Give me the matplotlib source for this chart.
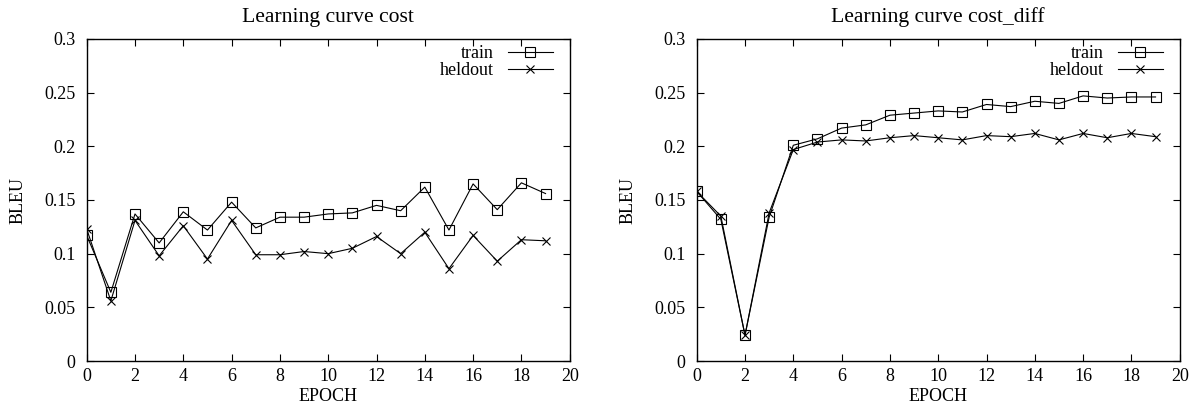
import matplotlib
matplotlib.use("Agg")
import matplotlib.pyplot as plt
from matplotlib.ticker import FormatStrFormatter, MultipleLocator

plt.rcParams["font.family"] = ["Liberation Serif", "DejaVu Serif"]
plt.rcParams["font.size"] = 13

# values
epochs = [0, 1, 2, 3, 4, 5, 6, 7, 8, 9, 10, 11, 12, 13, 14, 15, 16, 17, 18, 19]
cost_train = [0.117, 0.064, 0.137, 0.110, 0.139, 0.122, 0.148, 0.124, 0.134, 0.134,
              0.137, 0.138, 0.145, 0.140, 0.162, 0.122, 0.165, 0.141, 0.166, 0.156]
cost_heldout = [0.123, 0.056, 0.131, 0.098, 0.126, 0.095, 0.131, 0.099, 0.099, 0.102,
                0.100, 0.105, 0.116, 0.100, 0.120, 0.086, 0.117, 0.093, 0.113, 0.112]
diff_train = [0.158, 0.132, 0.024, 0.134, 0.201, 0.207, 0.217, 0.220, 0.229, 0.231,
              0.233, 0.232, 0.239, 0.237, 0.242, 0.240, 0.247, 0.245, 0.246, 0.246]
diff_heldout = [0.158, 0.135, 0.024, 0.138, 0.197, 0.204, 0.206, 0.205, 0.208, 0.210,
                0.208, 0.206, 0.210, 0.209, 0.212, 0.206, 0.212, 0.208, 0.212, 0.209]

panels = [
    ("Learning curve cost", cost_train, cost_heldout),
    ("Learning curve cost_diff", diff_train, diff_heldout),
]

W, H = 1193, 405
fig = plt.figure(figsize=(W / 100, H / 100), dpi=100)
ax_w, ax_h = 483 / W, 322 / H
bottom = (H - 361) / H
lefts = [86.7 / W, 696.7 / W]

for left, (title, train, heldout) in zip(lefts, panels):
    ax = fig.add_axes([left, bottom, ax_w, ax_h])
    ax.plot(epochs, train, color="black", lw=0.8, marker="s", ms=6.5,
            mfc="none", mec="black", mew=0.8, label="train")
    ax.plot(epochs, heldout, color="black", lw=0.8, marker="x", ms=6,
            mew=0.8, label="heldout")
    ax.set_xlim(0, 20)
    ax.set_ylim(0, 0.3)
    ax.xaxis.set_major_locator(MultipleLocator(2))
    ax.yaxis.set_major_locator(MultipleLocator(0.05))
    ax.yaxis.set_major_formatter(FormatStrFormatter("%g"))
    ax.tick_params(direction="in", length=5, width=0.8, top=True, right=True)
    ax.tick_params(axis="x", pad=5)
    ax.tick_params(axis="y", pad=8)
    for sp in ax.spines.values():
        sp.set_linewidth(1.0)
    ax.set_title(title, pad=12)
    ax.set_xlabel("EPOCH")
    ax.set_ylabel("BLEU")
    ax.xaxis.set_label_coords(0.5, -0.085)
    ax.yaxis.set_label_coords(-0.125, 0.5)
    ax.legend(loc="upper right", bbox_to_anchor=(0.9655, 0.98), frameon=False,
              markerfirst=False, handlelength=2.5, handletextpad=0.8,
              labelspacing=0.0, borderpad=0, borderaxespad=0)

fig.savefig("out.png", dpi=100)
